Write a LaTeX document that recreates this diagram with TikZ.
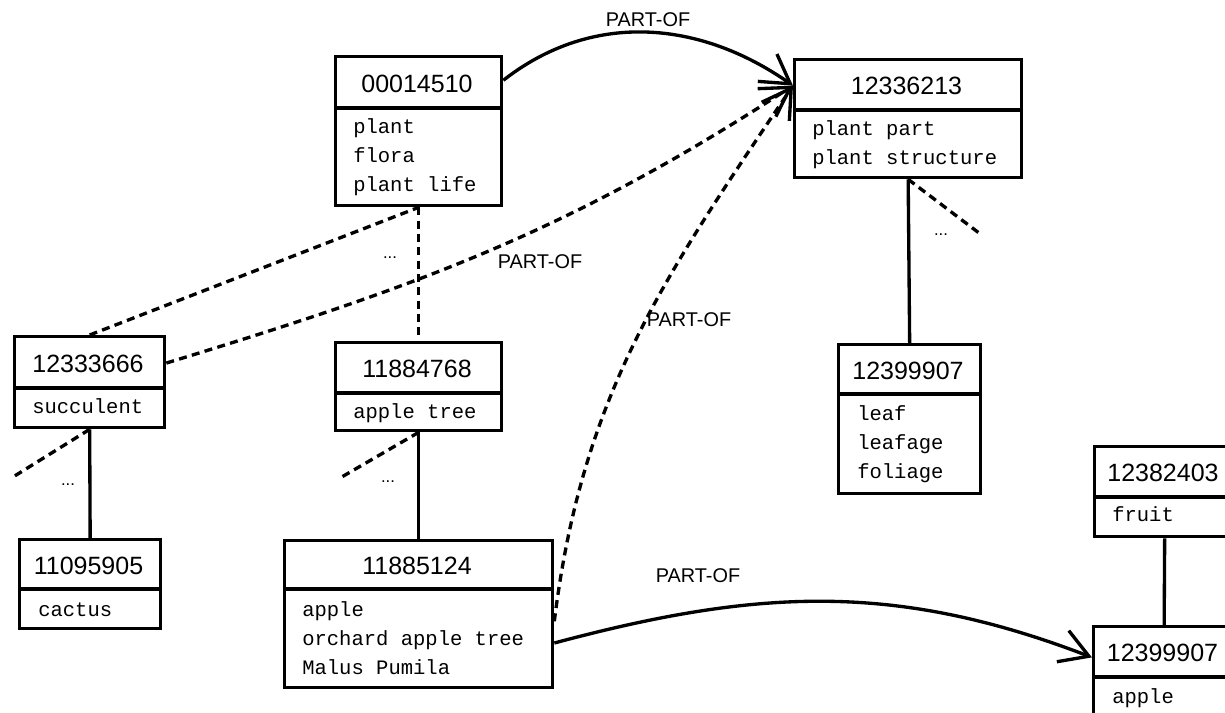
\documentclass[tikz,border=0pt]{standalone}
\usepackage{fontspec}
\setmainfont{Liberation Sans}
\newfontfamily\monof{Liberation Mono}
\usetikzlibrary{arrows.meta,calc}
\tikzset{
 frame/.style={draw, line width=2.5pt, inner sep=0pt, anchor=north west},
 headtext/.style={font=\fontsize{18.75pt}{22pt}\selectfont, inner sep=0pt},
 bodytext/.style={font=\monof\fontsize{15.4pt}{18pt}\selectfont, anchor=mid west, inner sep=0pt},
 conn/.style={line width=2.5pt},
 dsh/.style={conn, dash pattern=on 6pt off 4pt},
 arr/.style={-{Straight Barb[length=21pt,width=25pt]}},
 lbl/.style={font=\fontsize{14.9pt}{18pt}\selectfont, inner sep=0pt},
 dotlbl/.style={font=\fontsize{12.5pt}{14pt}\selectfont, inner sep=0pt},
}
\newcommand{\synbox}[7]{%
  \node[frame, minimum width={(#4-#2)*0.75pt}, minimum height={(#6-#3)*0.75pt}] (#1) at (#2,#3) {};
  \draw[line width=2.5pt] (#2,#5) -- (#4,#5);
  \node[headtext] (#1-h) at ({(#2+#4)/2},{(#3+#5)/2+2}) {#7};
}
\begin{document}
\begin{tikzpicture}[x=0.75pt,y=-0.75pt]
\path[use as bounding box] (0,0) rectangle (1225,713);
\clip (0,0) rectangle (1225,713);

% boxes
\synbox{A}{334}{55}{500}{108}{204}{00014510}
\node[bodytext] (A-1) at (353,130) {plant};
\node[bodytext] (A-2) at (353,159) {flora};
\node[bodytext] (A-3) at (353,188) {plant life};

\synbox{B}{793}{58}{1020}{110}{176}{12336213}
\node[bodytext] (B-1) at (812,132) {plant part};
\node[bodytext] (B-2) at (812,161) {plant structure};

\synbox{C}{13}{335}{163}{388}{426}{12333666}
\node[bodytext] (C-1) at (32,410) {succulent};

\synbox{D}{18}{538}{159}{589}{627}{11095905}
\node[bodytext] (D-1) at (38,613) {cactus};

\synbox{E}{334}{341}{500}{393}{429}{11884768}
\node[bodytext] (E-1) at (353,415) {apple tree};

\synbox{F}{283}{539}{551}{589}{686}{11885124}
\node[bodytext] (F-1) at (302,613) {apple};
\node[bodytext] (F-2) at (302,642) {orchard apple tree};
\node[bodytext] (F-3) at (302,671) {Malus Pumila};

\synbox{G}{837}{343}{979}{394}{492}{12399907}
\node[bodytext] (G-1) at (857,417) {leaf};
\node[bodytext] (G-2) at (857,446) {leafage};
\node[bodytext] (G-3) at (857,475) {foliage};

\synbox{H}{1093}{445}{1233}{497}{535}{12382403}
\node[bodytext] (H-1) at (1112,518) {fruit};

\synbox{I}{1092}{625}{1233}{760}{760}{}
\draw[line width=2.5pt] (1092,677) -- (1233,677);
\node[headtext] (I-h) at (1162.5,653) {12399907};
\node[bodytext] (I-1) at (1112,700) {apple};

% dangling ends
\coordinate (cd) at (13,477);
\coordinate (ed) at (340,478);
\coordinate (bd) at (979,233);

% hierarchy links
\draw[dsh] (A.south) -- (E.north);
\draw[dsh] (C.north) -- (A.south);
\draw[dsh] (C.south) -- (cd);
\draw[conn] (C.south) -- (D.north);
\draw[dsh] (E.south) -- (ed);
\draw[conn] (E.south) -- (F.north);
\draw[conn] (B.south) -- (G.north);
\draw[dsh] (B.south) -- (bd);
\draw[conn] (H.south) -- (I.north);

% PART-OF arrows
\draw[conn, arr] (A.31) to[out=38, in=145] (B.164);
\draw[dsh, arr] (C.14) to[out=17, in=213] (B.164);
\draw[dsh, arr] (F.-3) to[out=83, in=236] (B.164);
\draw[conn, arr] (F.-12) to[out=15, in=159] (I.153);

% labels
\node[lbl] (l1) at (648,20) {PART-OF};
\node[lbl] (l2) at (540,262) {PART-OF};
\node[lbl] (l3) at (689,320) {PART-OF};
\node[lbl] (l4) at (698,576) {PART-OF};
\node[dotlbl] (d1) at (390,258) {...};
\node[dotlbl] (d2) at (68,485) {...};
\node[dotlbl] (d3) at (388,482) {...};
\node[dotlbl] (d4) at (941,235) {...};
\end{tikzpicture}
\end{document}
